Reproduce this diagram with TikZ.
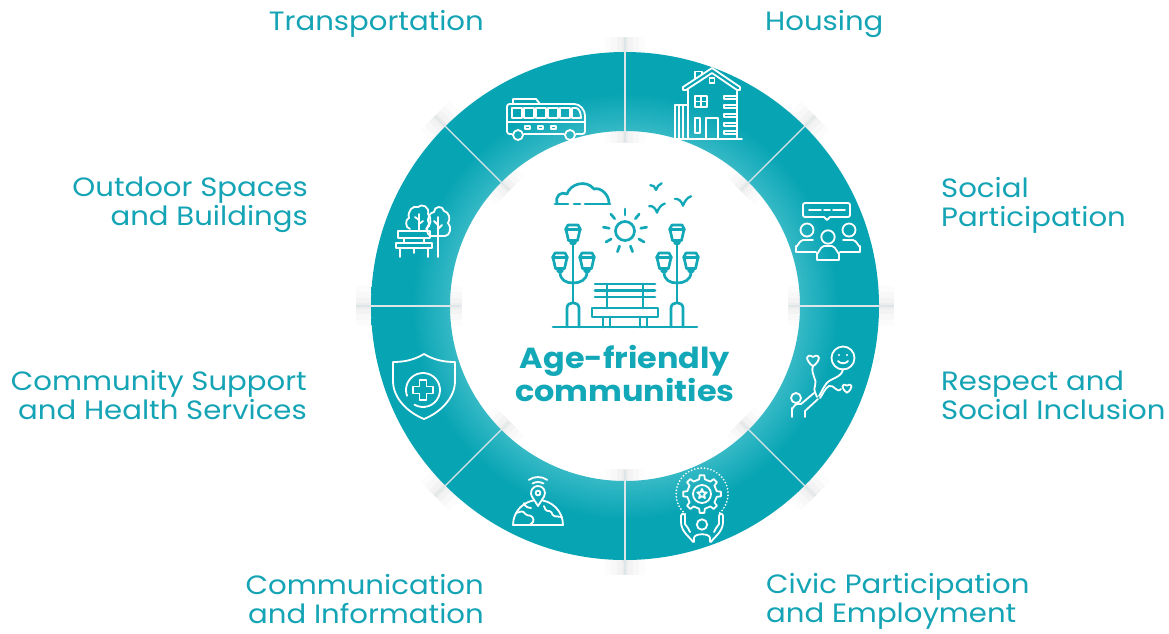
\documentclass[tikz,border=0pt]{standalone}
\usepackage{fontspec}
\setmainfont{Poppins}[FakeStretch=1.1]
\usetikzlibrary{calc}

\definecolor{ringdark}{HTML}{07A4B4}
\definecolor{ringlight}{HTML}{38BAC6}
\definecolor{labelteal}{HTML}{14A4B5}
\definecolor{parkteal}{HTML}{12A8B8}
\definecolor{divider}{HTML}{DCE6E8}

% light band along the inner rim of the ring
\pgfdeclareradialshading{ringglow}{\pgfpoint{0bp}{0bp}}{%
  color(0bp)=(ringlight); color(17bp)=(ringlight); color(21bp)=(ringdark);
  color(25bp)=(ringdark); color(50bp)=(ringdark)}

\newcommand{\heartat}[3]{%
  \draw[ico, shift={(#1,#2)}, scale=#3]
    (0,6) .. controls (-8,0) and (-7,-7) .. (0,-3)
          .. controls (7,-7) and (8,0) .. (0,6) -- cycle;}
\newcommand{\birdat}[3]{%
  \draw[park, line width=2.3pt, shift={(#1,#2)}, scale=#3]
    (-6,-3) .. controls (-3,-3.5) and (-1,-1) .. (0,2)
            .. controls (1,-1) and (3,-4) .. (6,-5);}

\tikzset{
  ico/.style={draw=white, line width=1.8pt, line cap=round, line join=round},
  park/.style={draw=parkteal, line width=2.7pt, line cap=round, line join=round},
  lbl/.style={text=labelteal, font=\fontsize{26.5}{28.5}\selectfont, inner sep=0pt},
  title/.style={text=parkteal, font=\fontsize{29}{30}\selectfont\bfseries, inner sep=0pt, align=center},
  % ---- ring icons, drawn around their own centre (y grows downwards) ----
  busicon/.pic={
    \draw[ico, rounded corners=2.5] (-33,16) -- (-38,16) -- (-38,-14) -- (27,-14)
       .. controls (35,-14) and (40,-8) .. (40,0) -- (40,16) -- (31,16);
    \draw[ico] (-21,16) -- (19,16);
    \draw[ico] (-32,-14) -- (-32,-19) -- (-9,-19) -- (-5,-14);
    \foreach \x in {-33,-21,-9,3,15} \draw[ico] (\x,-10) rectangle ++(10,10);
    \draw[ico] (27,-10) -- (31,-10) .. controls (34,-10) and (36,-5) .. (36,0) -- (27,0) -- cycle;
    \draw[ico] (-38,4) -- (40,4);
    \foreach \x in {-20,-7,6} \draw[ico] (\x,8) rectangle ++(5,3);
    \draw[ico] (-27,17) circle[radius=5];
    \draw[ico] (25,17) circle[radius=5];
  },
  houseicon/.pic={
    \draw[ico] (-25,-14) -- (-25,-17) -- (4,-36) -- (32,-17) -- (32,-14) -- (29,-14)
       -- (4,-31) -- (-22,-14) -- cycle;
    \draw[ico] (-13,-24.9) -- (-13,-32.5) -- (-6,-32.5) -- (-6,-29.4);
    \draw[ico] (1.5,-26) rectangle (6.5,-21);
    \draw[ico] (-20,-15) -- (-20,35);
    \draw[ico] (29,-14) -- (29,35);
    \draw[ico] (-36,35) -- (34,35);
    \draw[ico] (-13,-8) rectangle (-1,3);
    \draw[ico] (-7,-8) -- (-7,3) (-13,-2.5) -- (-1,-2.5);
    \draw[ico] (-2,14) rectangle (10,35);
    \draw[ico] (-13,14) rectangle (-8,29);
    \foreach \y in {-8,1,10,19,27} \draw[ico] (16,\y) rectangle (29,\y+3);
    \draw[ico] (-20,1) -- (-33,1) -- (-33,35);
    \draw[ico] (-29,1) -- (-29,35) (-25,1) -- (-25,35);
  },
  socialicon/.pic={
    \draw[ico, rounded corners=2] (-3,-14) -- (-24,-14) -- (-24,-28) -- (23,-28) -- (23,-14) -- (3,-14);
    \draw[ico] (-3,-14) -- (0,-11) -- (3,-14);
    \draw[ico] (-18,-21) -- (-6,-21) (-3,-21) -- (3,-21) (6,-21) -- (18,-21);
    \draw[ico] (-20,-1) circle[radius=6.5];
    \draw[ico] (22,-1) circle[radius=6.5];
    \draw[ico] (1,6) circle[radius=6.7];
    \draw[ico] (-11,21) -- (-31,21) -- (-31,15) to[out=-90,in=180] (-24,9) -- (-14,9);
    \draw[ico] (13,21) -- (33,21) -- (33,15) to[out=-90,in=0] (26,9) -- (16,9);
    \draw[ico] (-10,29) -- (-10,22) to[out=-90,in=180] (-3,15) -- (5,15)
       to[out=0,in=-90] (12,22) -- (12,29) -- cycle;
  },
  respecticon/.pic={
    \heartat{-9}{-24}{1.05}
    \draw[ico] (21,-26) circle[radius=11.5];
    \fill[white] (17,-29) circle[radius=1.2] (25,-29) circle[radius=1.2];
    \draw[ico] (16,-23) .. controls (18,-20) and (24,-20) .. (26,-23);
    \heartat{25}{4}{0.8}
    \draw[ico] (-9,-18) .. controls (-12,-10) and (-4,-4) .. (-7,2) .. controls (-9,6) and (-6,10) .. (-5,13);
    \draw[ico] (21,-15) .. controls (20,-6) and (8,-6) .. (4,0) .. controls (1,4) and (-1,9) .. (-3,12);
    \draw[ico] (19,5) .. controls (15,10) and (12,0) .. (7,2) .. controls (3,4) and (1,10) .. (-2,14);
    \draw[ico] (-26,14) circle[radius=5];
    \draw[ico] (-30,33) -- (-30,24) to[out=-90,in=180] (-25,20) -- (-21,20) -- (-8,9);
    \draw[ico] (-17,33) -- (-17,27) -- (-4,15);
  },
  civicicon/.pic={
    \draw[ico, line width=1.9pt, dash pattern=on 0pt off 3.3pt] (0,-11) ++(130:26) arc[start angle=130, end angle=410, radius=26];
    \draw[ico] (0,-11) ++(-11:15)
      \foreach \a in {0,45,...,315} { -- ++(0,0) -- ($(0,-11)+(\a-11:15)$) -- ($(0,-11)+(\a-7:19)$) -- ($(0,-11)+(\a+7:19)$) -- ($(0,-11)+(\a+11:15)$) } -- cycle;
    \draw[ico] (0,-11) circle[radius=9];
    \draw[ico] ($(0,-11)+(270:5)$)
      \foreach \a in {270,342,54,126,198} { -- ($(0,-11)+(\a:5)$) -- ($(0,-11)+(\a+36:2.2)$) } -- cycle;
    \draw[ico] (0,19.5) circle[radius=5.2];
    \draw[ico] (-8,37) -- (-8,33) .. controls (-8,28) and (8,28) .. (8,33) -- (8,37);
    \draw[ico] (-9,37) .. controls (-12,32) and (-21,27) .. (-21,17) -- (-21,11)
       .. controls (-21,8) and (-17,8) .. (-17,11) -- (-17,19) .. controls (-15,22) and (-13,24) .. (-12,27);
    \draw[ico] (9,37) .. controls (12,32) and (21,27) .. (21,17) -- (21,11)
       .. controls (21,8) and (17,8) .. (17,11) -- (17,19) .. controls (15,22) and (13,24) .. (12,27);
  },
  infoicon/.pic={
    \draw[ico] (-25,23) arc[start angle=180, end angle=360, radius=25] -- cycle;
    \draw[ico, rounded corners=1.5] (-22,11) -- (-15,9) -- (-12,13) -- (-6,14) -- (-4,19) -- (-8,23);
    \draw[ico, rounded corners=1.5] (6,4) -- (8,9) -- (13,9) -- (15,14) -- (24,15);
    \draw[ico, rounded corners=1.5] (-14,1) -- (-12,5) -- (-7,6);
    \draw[ico, fill=ringdark!85!ringlight] (0,4) -- ($(0,-9)+(150:7)$) arc[start angle=150, end angle=390, radius=7] -- cycle;
    \draw[ico] (0,-9) circle[radius=2.4];
    \draw[ico] ($(0,-9)+(240:11)$) arc[start angle=240, end angle=300, radius=11];
    \draw[ico] ($(0,-9)+(235:16)$) arc[start angle=235, end angle=305, radius=16];
  },
  healthicon/.pic={
    \draw[ico] (0,-32) .. controls (-10,-26) and (-20,-24) .. (-31,-24) -- (-31,-5)
       .. controls (-31,13) and (-15,27) .. (0,33) .. controls (15,27) and (31,13) .. (31,-5)
       -- (31,-24) .. controls (20,-24) and (10,-26) .. (0,-32) -- cycle;
    \draw[ico] ($(-1,4)+(160:17)$) arc[start angle=160, end angle=480, radius=17];
    \draw[ico, shift={(-1,4)}] (-3.5,-10) -- (3.5,-10) -- (3.5,-3.5) -- (10,-3.5) -- (10,3.5)
       -- (3.5,3.5) -- (3.5,10) -- (-3.5,10) -- (-3.5,3.5) -- (-10,3.5) -- (-10,-3.5)
       -- (-3.5,-3.5) -- cycle;
  },
  outdooricon/.pic={
    \draw[ico] (8,5) .. controls (3,4) and (3,-4) .. (6,-7) .. controls (3,-12) and (7,-19) .. (11,-19)
       .. controls (11,-25) and (20,-26) .. (21,-20) .. controls (26,-19) and (28,-12) .. (25,-8)
       .. controls (29,-4) and (27,5) .. (22,5) -- cycle;
    \draw[ico] (15,-14) -- (15,26) (15,-6) -- (11,-10) (15,-2) -- (19,-6);
    \draw[ico] (-13,-2) .. controls (-18,-3) and (-18,-12) .. (-14,-13) .. controls (-16,-20) and (-10,-26) .. (-5,-24)
       .. controls (-1,-28) and (7,-24) .. (5,-17) .. controls (9,-14) and (8,-4) .. (3,-2);
    \draw[ico] (-4,-17) -- (-4,0) (-4,-11) -- (-8,-14) (-4,-7) -- (0,-10);
    \draw[ico] (-25,0) rectangle (7,7);
    \draw[ico] (-27,12) rectangle (9,17);
    \draw[ico] (-19,7) -- (-19,12) (1,7) -- (1,12);
    \draw[ico] (-23,17) -- (-23,26) (5,17) -- (5,26) (-9,17) -- (-9,22);
  },
  lantern/.pic={
    \draw[park] (-5,0) -- (5,0) -- (7.5,4.5) -- (-7.5,4.5) -- cycle;
    \draw[park] (-7,4.5) -- (-4.5,15.5) -- (4.5,15.5) -- (7,4.5);
    \draw[park] (-2.5,15.5) -- (-2,18.5) -- (2,18.5) -- (2.5,15.5);
  },
}

\begin{document}
\begin{tikzpicture}[x=1pt, y=-1pt]
\useasboundingbox (0,0) rectangle (1169,633);
\fill[white] (0,0) rectangle (1169,633);

\coordinate (c) at (625,306);

% ---------- ring with its eight sectors ----------
\begin{scope}[shift={(c)}]
  \foreach \a in {0,45,...,315} {
    \foreach \w/\o in {40/0.012,28/0.016,16/0.02,6/0.025} {
      \draw[line width=\w pt, draw=black, opacity=\o] (\a:248) -- (\a:269);
      \draw[line width=\w pt, draw=black, opacity=\o] (\a:163) -- (\a:180);
    }
  }
  \shade[shading=ringglow, even odd rule] (0,0) circle[radius=254] (0,0) circle[radius=175];
  \foreach \a in {0,45,...,315}
    \draw[divider, line width=1.3pt] (\a:164) -- (\a:269);
\end{scope}

% ---------- sector icons ----------
\pic at (545,118) {busicon};
\pic at (708,104) {houseicon};
\pic at (827,231) {socialicon};
\pic at (822,384) {respecticon};
\pic at (702,505) {civicicon};
\pic at (538,502) {infoicon};
\pic at (424,386) {healthicon};
\pic at (423,231) {outdooricon};

% ---------- park scene in the centre ----------
\draw[park] (557,203) .. controls (555,196) and (561,191) .. (567,194)
   .. controls (570,184) and (586,179) .. (594,189) .. controls (601,187) and (609,195) .. (609,203);
\draw[park] (555,204) -- (568,204) (574,204) -- (580,204) (585,204) -- (610,204);
\draw[park] (625,231) circle[radius=9.5];
\foreach \a in {270,310,350,30,70,110,150,190,230}
  \draw[park] ($(625,231)+(\a:16)$) -- ($(625,231)+(\a:22)$);
\birdat{656}{188}{0.95}
\birdat{683}{203}{1.35}
\birdat{657}{210}{1.3}

\pic at (573,225) {lantern};
\pic at (560,253) {lantern};
\pic at (587,253) {lantern};
\pic at (677,225) {lantern};
\pic at (664,253) {lantern};
\pic at (691,253) {lantern};
\draw[park] (573,244) -- (573,302);
\draw[park] (560,272) .. controls (560,280) and (566,283) .. (573,283);
\draw[park] (587,272) .. controls (587,280) and (580,283) .. (573,283);
\draw[park] (677,244) -- (677,302);
\draw[park] (664,272) .. controls (664,280) and (670,283) .. (677,283);
\draw[park] (691,272) .. controls (691,280) and (684,283) .. (677,283);
\draw[park] (567,327) -- (567,308) .. controls (567,301) and (579,301) .. (579,308) -- (579,327);
\draw[park] (671,327) -- (671,308) .. controls (671,301) and (683,301) .. (683,308) -- (683,327);

\draw[park] (595,284) -- (655,284) (595,290.5) -- (655,290.5) (595,297) -- (655,297);
\draw[park] (607,284) -- (607,308) (643,284) -- (643,308);
\draw[park] (592,308) rectangle (658,317);
\draw[park] (603,317) -- (603,327) (610,317) -- (610,327) (640,317) -- (640,327) (647,317) -- (647,327);
\draw[park] (553,327) -- (697,327);

% multi-line nodes sit on the baseline of their last line
\node[title, anchor=base] (centre) at (625,401) {Age-friendly\\communities};

% ---------- sector labels ----------
\node[lbl, anchor=base east, align=right] (transport) at (484,30) {Transportation};
\node[lbl, anchor=base west, align=left] (housing) at (765,30) {Housing};
\node[lbl, anchor=base east, align=right] (outdoor) at (308,225) {Outdoor Spaces\\and Buildings};
\node[lbl, anchor=base west, align=left] (social) at (941,226) {Social\\Participation};
\node[lbl, anchor=base east, align=right] (health) at (307,419) {Community Support\\and Health Services};
\node[lbl, anchor=base west, align=left] (respect) at (941,419) {Respect and\\Social Inclusion};
\node[lbl, anchor=base east, align=right] (info) at (484,623) {Communication\\and Information};
\node[lbl, anchor=base west, align=left] (civic) at (766,622) {Civic Participation\\and Employment};
\end{tikzpicture}
\end{document}
